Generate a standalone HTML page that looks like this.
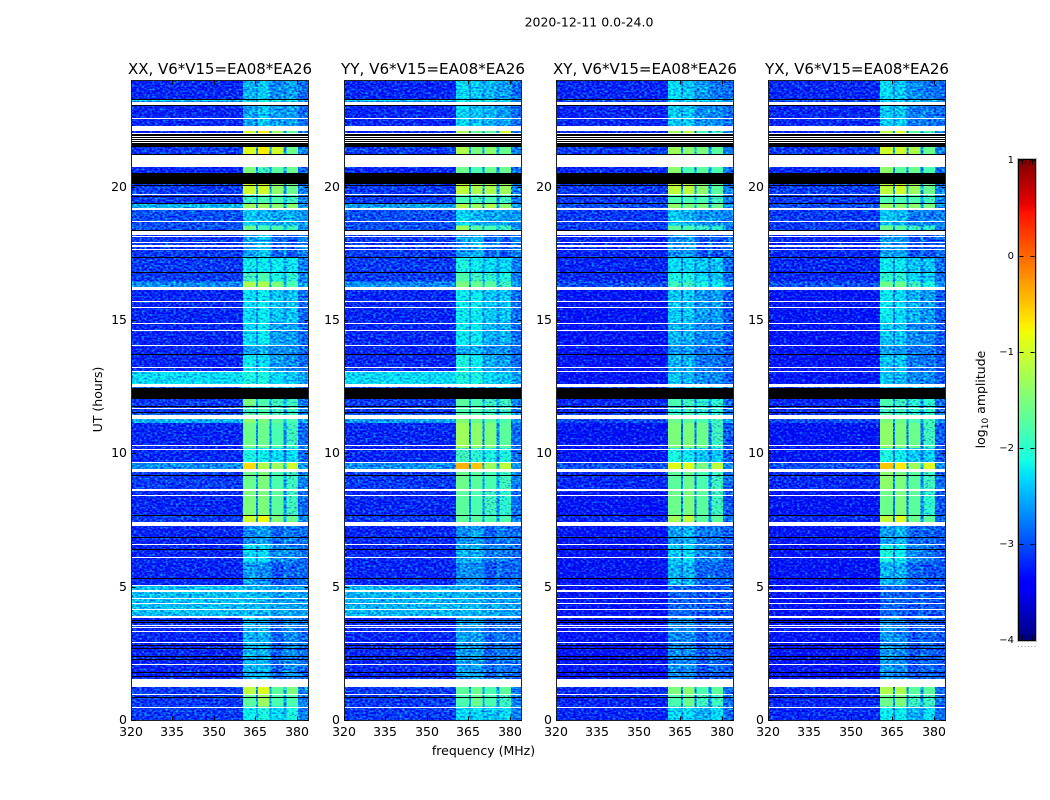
<!DOCTYPE html>
<html>
<head>
<meta charset="utf-8">
<title>2020-12-11 0.0-24.0</title>
<style>
html,body{margin:0;padding:0;background:#fff;}
svg{display:block;}
text{font-family:"DejaVu Sans","Liberation Sans",sans-serif;fill:#000;}
</style>
</head>
<body>
<svg id="chart" xmlns="http://www.w3.org/2000/svg" width="1050" height="800" viewBox="0 0 1050 800">
<defs>
<filter id="grain" x="0" y="0" width="100%" height="100%" filterUnits="objectBoundingBox" color-interpolation-filters="sRGB">
<feTurbulence type="fractalNoise" baseFrequency="0.38 0.55" numOctaves="1" seed="7" result="n"/>
<feColorMatrix in="n" type="matrix" values="0.2 0 0 0 0.4  1.7 0 0 0 -0.35  0 0.8 0 0 0.1  0 0 0 0 1" result="nc"/>
<feComposite in="SourceGraphic" in2="nc" operator="arithmetic" k1="0" k2="1" k3="1" k4="-0.5" result="sum"/>
<feComposite in="sum" in2="SourceAlpha" operator="in"/>
</filter>
</defs>
</svg>
<script>
// ---- data: time bands (UT hours, top edge of each band, last entry is bottom of plot)
const bandEdges = [24,23.27,23.19,22.28,22.0,21.49,20.74,20.3,19.68,19.39,19.14,18.55,18.35,17.34,16.78,16.45,16.13,14.9,14.05,13.7,13.09,12.59,12.05,11.8,11.45,11.14,10.2,9.66,9.41,8.66,7.67,7.29,6.59,5.9,5.05,3.9,1.24,0.94,0.5,0];
// frequency blocks (MHz): background, block1, gap, block2, gap, block3, gap, block4, edge
const freqEdges = [320,360.5,365.2,366,370,370.8,375.2,376.2,380.4,384];
// log10 amplitude per band: [background, block1, block2, block3, block4]
const levelsXX = [[-3.2,-2.5,-2.4,-2.7,-2.6],[-2.3,-2.1,-2.1,-2.1,-2.1],[-3.2,-2.6,-2.4,-2.6,-2.6],[-3.2,-1.0,-0.7,-1.3,-1.7],[-3.2,-1.2,-1.0,-1.5,-1.7],[-3.1,-0.9,-0.7,-1.0,-1.6],[-3.2,-1.5,-1.9,-1.7,-1.6],[-3.1,-1.0,-1.0,-1.4,-1.6],[-3.1,-1.9,-1.8,-1.8,-1.9],[-2.5,-1.3,-1.3,-1.4,-1.4],[-3.0,-2.4,-2.5,-2.6,-2.5],[-3.0,-1.6,-1.8,-1.8,-1.9],[-3.1,-2.6,-2.4,-2.9,-3.0],[-3.1,-2.2,-2.2,-2.2,-2.2],[-3.1,-1.9,-1.8,-2.1,-2.0],[-2.7,-1.2,-1.2,-1.5,-1.8],[-3.2,-2.3,-2.2,-2.4,-2.4],[-3.2,-2.3,-2.2,-2.6,-2.6],[-3.2,-2.6,-2.5,-2.7,-2.7],[-3.2,-2.2,-2.3,-2.6,-2.7],[-2.3,-2.1,-2.1,-2.3,-2.4],[-3.0,-2.5,-2.5,-2.5,-2.5],[-3.1,-1.5,-1.8,-1.9,-1.9],[-3.1,-1.9,-1.8,-1.9,-1.9],[-2.5,-1.4,-1.5,-1.7,-1.8],[-3.2,-1.6,-1.6,-1.8,-1.9],[-3.2,-2.1,-2.2,-2.3,-2.3],[-2.7,-0.6,-1.2,-1.3,-1.0],[-3.1,-1.6,-1.5,-1.8,-1.9],[-3.2,-1.5,-1.5,-1.7,-1.9],[-3.1,-1.0,-0.8,-1.5,-1.6],[-3.2,-2.7,-2.6,-2.9,-2.8],[-3.2,-2.3,-2.3,-2.7,-2.7],[-3.2,-2.6,-2.7,-3.0,-2.9],[-2.45,-2.5,-2.5,-2.6,-2.6],[-3.2,-2.5,-2.5,-2.9,-2.7],[-3.1,-1.1,-0.9,-1.7,-1.5],[-3.1,-1.7,-1.3,-1.8,-1.8],[-3.1,-2.2,-2.1,-2.3,-2.1]];
const levelsYY = [[-3.2,-2.3,-2.4,-2.5,-2.6],[-2.3,-2.1,-2.1,-2.1,-2.1],[-3.2,-2.3,-2.4,-2.5,-2.6],[-3.2,-1.2,-1.6,-1.7,-1.0],[-3.2,-1.4,-1.6,-1.7,-1.5],[-3.1,-1.2,-1.5,-1.4,-1.6],[-3.2,-1.6,-1.8,-1.6,-1.6],[-3.1,-1.1,-1.2,-1.2,-1.3],[-3.1,-1.8,-1.9,-1.8,-1.9],[-2.6,-1.2,-1.3,-1.2,-1.4],[-3.0,-2.3,-2.5,-2.6,-2.6],[-3.0,-1.3,-1.7,-1.8,-1.9],[-3.1,-2.6,-2.5,-2.9,-3.0],[-3.1,-2.1,-2.2,-2.3,-2.3],[-3.1,-1.8,-1.9,-2.0,-2.1],[-2.7,-1.5,-1.6,-1.7,-1.9],[-3.2,-2.2,-2.2,-2.4,-2.4],[-3.2,-2.2,-2.2,-2.5,-2.5],[-3.2,-2.5,-2.5,-2.7,-2.7],[-3.2,-2.1,-2.2,-2.5,-2.6],[-2.3,-2.1,-2.1,-2.3,-2.4],[-3.0,-2.5,-2.5,-2.5,-2.5],[-3.1,-1.7,-1.8,-1.9,-1.9],[-3.1,-1.8,-1.8,-1.9,-1.9],[-2.6,-1.5,-1.6,-1.7,-1.8],[-3.2,-1.3,-1.4,-1.5,-1.7],[-3.2,-1.9,-2.0,-2.1,-2.1],[-2.7,-0.4,-0.5,-1.3,-1.1],[-3.1,-1.6,-1.7,-1.8,-1.9],[-3.2,-1.7,-1.8,-1.9,-2.0],[-3.1,-1.7,-1.7,-1.8,-1.8],[-3.2,-2.7,-2.6,-2.9,-2.8],[-3.2,-2.5,-2.5,-2.8,-2.8],[-3.2,-2.7,-2.7,-3.0,-2.9],[-2.5,-2.5,-2.5,-2.6,-2.6],[-3.2,-2.6,-2.6,-2.9,-2.8],[-3.1,-1.7,-1.6,-1.8,-1.7],[-3.1,-1.8,-1.6,-1.8,-1.9],[-3.1,-2.3,-2.3,-2.4,-2.3]];
const levelsXY = [[-3.2,-2.3,-2.4,-2.6,-2.8],[-3.0,-2.3,-2.3,-2.3,-2.3],[-3.2,-2.4,-2.4,-2.7,-2.7],[-3.2,-1.3,-1.1,-1.8,-1.9],[-3.2,-1.5,-1.4,-1.8,-1.9],[-3.1,-1.3,-1.4,-1.5,-1.7],[-3.2,-1.4,-1.8,-1.7,-1.8],[-3.1,-1.1,-1.1,-1.4,-1.7],[-3.1,-1.8,-1.8,-1.8,-1.9],[-3.0,-1.4,-1.5,-1.5,-1.6],[-3.1,-2.4,-2.5,-2.7,-2.7],[-3.1,-1.7,-1.8,-1.9,-2.0],[-3.2,-2.7,-2.6,-3.0,-3.0],[-3.2,-2.3,-2.3,-2.4,-2.4],[-3.2,-2.1,-2.1,-2.3,-2.4],[-3.0,-1.9,-1.9,-2.1,-2.2],[-3.3,-2.4,-2.4,-2.6,-2.6],[-3.3,-2.5,-2.5,-2.7,-2.7],[-3.3,-2.6,-2.6,-2.8,-2.8],[-3.3,-2.5,-2.5,-2.8,-2.8],[-3.3,-2.4,-2.5,-2.7,-2.7],[-3.1,-2.5,-2.5,-2.5,-2.5],[-3.2,-1.8,-1.9,-2.0,-2.0],[-3.2,-2.0,-1.9,-2.0,-2.0],[-3.0,-1.6,-1.7,-1.8,-1.9],[-3.3,-1.5,-1.5,-1.6,-1.9],[-3.3,-2.1,-2.2,-2.4,-2.4],[-3.0,-0.9,-0.9,-1.5,-1.1],[-3.2,-1.7,-1.6,-1.8,-1.9],[-3.3,-1.6,-1.5,-1.7,-1.9],[-3.2,-1.3,-1.1,-1.7,-1.7],[-3.3,-2.6,-2.5,-2.8,-2.8],[-3.3,-2.4,-2.3,-2.7,-2.7],[-3.3,-2.5,-2.5,-2.9,-2.9],[-3.3,-2.9,-2.9,-3.0,-3.0],[-3.3,-2.7,-2.7,-3.0,-2.9],[-3.2,-1.5,-1.4,-1.8,-1.7],[-3.2,-1.8,-1.6,-1.9,-1.9],[-3.2,-2.3,-2.3,-2.5,-2.3]];
const levelsYX = [[-3.2,-2.3,-2.4,-2.7,-2.8],[-3.0,-2.3,-2.3,-2.3,-2.3],[-3.2,-2.4,-2.4,-2.8,-2.8],[-3.2,-1.1,-0.9,-1.7,-1.9],[-3.2,-1.3,-1.3,-1.7,-1.9],[-3.1,-1.0,-1.0,-1.2,-1.6],[-3.2,-1.4,-1.7,-1.6,-1.8],[-3.1,-1.1,-1.0,-1.3,-1.6],[-3.1,-1.8,-1.8,-1.8,-1.9],[-3.0,-1.3,-1.4,-1.4,-1.5],[-3.1,-2.4,-2.5,-2.8,-2.8],[-3.1,-1.6,-1.7,-1.9,-2.0],[-3.2,-2.6,-2.6,-3.0,-3.0],[-3.2,-2.2,-2.2,-2.4,-2.4],[-3.2,-2.0,-2.0,-2.3,-2.4],[-3.0,-1.6,-1.6,-1.9,-2.1],[-3.3,-2.2,-2.3,-2.5,-2.6],[-3.3,-2.4,-2.4,-2.7,-2.7],[-3.3,-2.6,-2.6,-2.8,-2.8],[-3.3,-2.4,-2.4,-2.8,-2.8],[-3.3,-2.4,-2.5,-2.7,-2.7],[-3.1,-2.5,-2.5,-2.5,-2.5],[-3.2,-1.8,-1.9,-2.0,-2.0],[-3.2,-1.9,-1.9,-2.0,-2.0],[-3.0,-1.5,-1.6,-1.8,-1.9],[-3.3,-1.4,-1.5,-1.6,-1.9],[-3.3,-2.1,-2.2,-2.4,-2.4],[-3.0,-0.5,-0.7,-1.3,-0.9],[-3.2,-1.4,-1.5,-1.7,-1.9],[-3.3,-1.6,-1.5,-1.7,-2.0],[-3.2,-1.1,-0.9,-1.6,-1.7],[-3.3,-2.6,-2.5,-2.9,-2.9],[-3.3,-2.1,-2.2,-2.7,-2.8],[-3.3,-2.5,-2.5,-2.9,-3.0],[-3.3,-2.9,-2.9,-3.0,-3.0],[-3.3,-2.6,-2.7,-3.0,-2.9],[-3.2,-1.2,-1.2,-1.7,-1.7],[-3.2,-1.6,-1.5,-1.9,-1.9],[-3.2,-2.2,-2.2,-2.5,-2.3]];
// flagged (no data) rows, drawn white: [low hour, high hour]
const whiteFlags = [[23.06,23.19],[22.53,22.57],[22.09,22.28],[21.99,22.01],[21.89,21.91],[21.79,21.83],[21.72,21.75],[21.66,21.69],[20.74,21.20],[19.68,19.71],[19.14,19.19],[18.68,18.70],[18.19,18.35],[18.12,18.16],[17.90,17.94],[17.73,17.80],[17.65,17.67],[16.13,16.24],[15.69,15.71],[15.45,15.48],[14.86,14.89],[14.60,14.63],[14.03,14.05],[13.20,13.24],[13.06,13.09],[12.54,12.59],[12.50,12.53],[11.67,11.70],[11.30,11.45],[10.29,10.31],[10.14,10.16],[9.64,9.66],[9.30,9.41],[8.59,8.66],[8.41,8.45],[7.29,7.43],[6.56,6.59],[6.09,6.11],[5.03,5.05],[4.80,4.88],[4.53,4.56],[4.34,4.38],[4.13,4.16],[3.83,3.90],[3.53,3.56],[3.45,3.49],[3.31,3.34],[2.90,2.93],[2.07,2.10],[1.24,1.54],[0.94,0.96],[0.46,0.50]];
// zero-amplitude rows, drawn black: [low hour, high hour]
const blackFlags = [[23.25,23.27],[23.03,23.06],[21.91,21.98],[21.83,21.89],[21.75,21.79],[21.69,21.72],[21.49,21.66],[21.20,21.23],[20.10,20.50],[20.04,20.06],[19.62,19.65],[19.35,19.39],[18.35,18.38],[17.34,17.36],[16.77,16.80],[13.69,13.71],[12.05,12.46],[11.75,11.78],[11.51,11.56],[9.66,9.68],[9.15,9.17],[7.65,7.67],[6.84,6.86],[6.38,6.40],[5.30,5.33],[3.71,3.74],[3.65,3.68],[2.78,2.80],[2.69,2.71],[2.36,2.40],[2.26,2.29],[1.79,1.81],[1.60,1.65],[0.84,0.86]];
// axis labels
const panelTitles = ["XX, V6*V15=EA08*EA26","YY, V6*V15=EA08*EA26","XY, V6*V15=EA08*EA26","YX, V6*V15=EA08*EA26"];
const freqTicks = [320,335,350,365,380];
const hourTicks = [0,5,10,15,20];
const colorTicks = [1,0,-1,-2,-3,-4];

// ---- scales and layout
const svg = document.getElementById('chart');
const NS = 'http://www.w3.org/2000/svg';
const panelLefts = [131,344,556,768];
const panelLevels = [levelsXX,levelsYY,levelsXY,levelsYX];
const panelIds = ['xx','yy','xy','yx'];
const plotW = 177, plotTop = 80, plotBottom = 720;
const yHour = h => plotBottom - (h/24)*(plotBottom-plotTop);
const xFreq = (x0,f) => x0 + ((f-320)/64)*plotW;
const cbLeft = 1019, cbRight = 1035, cbTop = 160, cbBottom = 640;
const yColor = v => cbBottom - ((v+4)/5)*(cbBottom-cbTop);

function ramp(t,pts){
  for(let i=1;i<pts.length;i++){
    if(t<=pts[i][0]){const a=pts[i-1],b=pts[i];return a[1]+(b[1]-a[1])*(t-a[0])/(b[0]-a[0]);}
  }
  return pts[pts.length-1][1];
}
function jet(v){
  const t=Math.max(0,Math.min(1,(v+4)/5));
  const r=ramp(t,[[0,0],[0.35,0],[0.66,1],[0.89,1],[1,0.5]]);
  const g=ramp(t,[[0,0],[0.125,0],[0.375,1],[0.64,1],[0.91,0],[1,0]]);
  const b=ramp(t,[[0,0.5],[0.11,1],[0.34,1],[0.65,0],[1,0]]);
  return 'rgb('+Math.round(r*255)+','+Math.round(g*255)+','+Math.round(b*255)+')';
}
function mk(tag,attrs,parent){
  const el=document.createElementNS(NS,tag);
  for(const k in attrs) el.setAttribute(k,attrs[k]);
  (parent||svg).appendChild(el);
  return el;
}
function line(x1,y1,x2,y2,parent){
  return mk('line',{x1:x1+0.5,y1:y1+0.5,x2:x2+0.5,y2:y2+0.5,stroke:'#000','stroke-width':1,'shape-rendering':'crispEdges'},parent);
}

// ---- figure text
let t = mk('text',{x:589,y:26.5,'text-anchor':'middle','font-size':'12.5'});
t.textContent='2020-12-11 0.0-24.0';


t = mk('text',{x:483.5,y:755,'text-anchor':'middle','font-size':'12.5'});
t.textContent='frequency (MHz)';


t = mk('text',{x:0,y:0,'text-anchor':'middle','font-size':'12.5',transform:'translate(102,399.5) rotate(-90)'});
t.textContent='UT (hours)';



// ---- panels
panelLefts.forEach((x0,p)=>{
  const g = mk('g',{});
  
  
  const quiet = mk('g',{filter:'url(#grain)'},g);
  
  
  const bright = mk('g',{},g);
  
  
  const levels = panelLevels[p];
  levels.forEach((row,r)=>{
    const y1=yHour(bandEdges[r]), y2=yHour(bandEdges[r+1]);
    const [bg,b1,b2,b3,b4]=row;
    const gap=Math.min(bg+0.5,-2.5), edge=Math.min(bg+0.35,-2.6);
    const cols=[bg,b1,gap,b2,gap,b3,gap,b4,edge];
    cols.forEach((v,c)=>{
      const xa=xFreq(x0,freqEdges[c]), xb=xFreq(x0,freqEdges[c+1]);
      const cell=mk('rect',{x:xa,y:y1,width:xb-xa,height:y2-y1,fill:jet(v),'shape-rendering':'crispEdges'},v<-1.8?quiet:bright);
      
      
    });
  });
  blackFlags.forEach(f=>{
    const y1=Math.round(yHour(f[1])), y2=Math.round(yHour(f[0]));
    const rect=mk('rect',{x:x0,y:y1,width:plotW,height:Math.max(y2-y1,1),fill:'#000','shape-rendering':'crispEdges'},g);
    
    
  });
  whiteFlags.forEach(f=>{
    const y1=Math.round(yHour(f[1])), y2=Math.round(yHour(f[0]));
    const rect=mk('rect',{x:x0,y:y1,width:plotW,height:Math.max(y2-y1,1),fill:'#fff','shape-rendering':'crispEdges'},g);
    
    
  });
  const frame=mk('rect',{x:x0+0.5,y:plotTop+0.5,width:plotW,height:plotBottom-plotTop,fill:'none',stroke:'#222','stroke-width':1,'shape-rendering':'crispEdges'},g);
  
  
  freqTicks.forEach(f=>{
    const x=Math.round(xFreq(x0,f));
    const a=line(x,plotBottom,x,plotBottom-4,g);
    
    
    const b=line(x,plotTop,x,plotTop+4,g);
    
    
    const lab=mk('text',{x:x,y:736,'text-anchor':'middle','font-size':'12.5'},g);
    lab.textContent=String(f);
    
    
  });
  hourTicks.forEach(h=>{
    const y=Math.round(yHour(h));
    const a=line(x0,y,x0+4,y,g);
    
    
    const b=line(x0+plotW,y,x0+plotW-4,y,g);
    
    
    const lab=mk('text',{x:x0-4,y:y+4,'text-anchor':'end','font-size':'12.5'},g);
    lab.textContent=String(h);
    
    
  });
  const title=mk('text',{x:x0+plotW/2+0.5,y:74,'text-anchor':'middle','font-size':'15',textLength:'184',lengthAdjust:'spacingAndGlyphs'},g);
  title.textContent=panelTitles[p];
  
  
});

// ---- colorbar
const cb = mk('g',{});


for(let i=0;i<240;i++){
  const v0=-4+i*5/240;
  const y2=yColor(v0), y1=yColor(v0+5/240);
  const step=mk('rect',{x:cbLeft,y:y1,width:cbRight-cbLeft,height:y2-y1+0.5,fill:jet(v0+2.5/240),'shape-rendering':'crispEdges'},cb);
  
  
}
const cbHalo=mk('rect',{x:cbLeft-1.5,y:cbTop-1.5,width:cbRight-cbLeft+3,height:cbBottom-cbTop+3,fill:'none',stroke:'#bbb','stroke-width':1,'shape-rendering':'crispEdges'},cb);


const cbFrame=mk('rect',{x:cbLeft-0.5,y:cbTop-0.5,width:cbRight-cbLeft+1,height:cbBottom-cbTop+1,fill:'none',stroke:'#000','stroke-width':1,'shape-rendering':'crispEdges'},cb);


colorTicks.forEach(v=>{
  const y=Math.round(yColor(v));
  const a=line(cbLeft,y,cbLeft+4,y,cb);
  
  
  const b=line(cbRight-1,y,cbRight-5,y,cb);
  
  
  const lab=mk('text',{x:1014,y:y+3,'text-anchor':'end','font-size':'10'},cb);
  lab.textContent=v<0?'\u2212'+Math.abs(v):String(v);
  
  
});
for(let i=1;i<=4;i++){
  const x=Math.round(cbLeft+i*3.2);
  const a=line(x,cbTop,x,cbTop+4,cb);
  
  
  const b=line(x,cbBottom-1,x,cbBottom-5,cb);
  
  
}
for(let i=0;i<6;i++){
  const dot=mk('rect',{x:1018+i*3.3,y:646,width:1,height:1,fill:'#999'},cb);
  
  
}
const cbLabel=mk('text',{x:0,y:0,'text-anchor':'middle','font-size':'12.5',transform:'translate(985,399.5) rotate(-90)'},cb);


const s1=mk('tspan',{},cbLabel); s1.textContent='log';
const s2=mk('tspan',{dy:'3','font-size':'9'},cbLabel); s2.textContent='10';
const s3=mk('tspan',{dy:'-3'},cbLabel); s3.textContent=' amplitude';
</script>
</body>
</html>
